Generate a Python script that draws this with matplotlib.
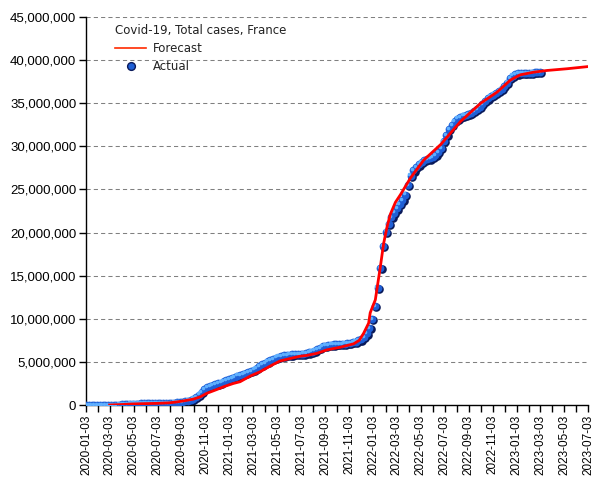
import numpy as np
import pandas as pd
import matplotlib
matplotlib.use("Agg")
import matplotlib.pyplot as plt
import matplotlib.dates as mdates
from matplotlib.transforms import offset_copy
from matplotlib.lines import Line2D
from matplotlib.ticker import FuncFormatter

# ---- Data ----
actual_start = "2020-01-03"   # weekly observations
actual_millions = [
    0, 0, 0, 0, 0, 0, 0, 0, 0, 0,            # k 0-9
    0.005, 0.015, 0.04, 0.07, 0.10, 0.13, 0.15, 0.16, 0.17, 0.17,   # 10-19
    0.18, 0.18, 0.19, 0.19, 0.19, 0.20, 0.20, 0.21, 0.22, 0.23,     # 20-29
    0.24, 0.25, 0.27, 0.29, 0.32, 0.36, 0.42, 0.50, 0.60, 0.75,     # 30-39
    0.95, 1.20, 1.50, 1.85, 2.10, 2.20, 2.30, 2.40, 2.50, 2.60,     # 40-49
    2.75, 2.90, 3.00, 3.10, 3.25, 3.40, 3.50, 3.60, 3.70, 3.80,     # 50-59
    3.90, 4.10, 4.30, 4.50, 4.70, 4.90, 5.05, 5.20, 5.35, 5.50,     # 60-69
    5.60, 5.70, 5.75, 5.80, 5.85, 5.86, 5.88, 5.90, 5.92, 5.95,     # 70-79
    6.00, 6.10, 6.20, 6.30, 6.45, 6.60, 6.80, 6.90, 6.96, 6.99,     # 80-89
    7.02, 7.05, 7.07, 7.10, 7.12, 7.15, 7.20, 7.27, 7.35, 7.50,     # 90-99
    7.60, 7.90, 8.30, 8.90, 10.0, 11.5, 13.6, 15.9, 18.4, 20.1,     # 100-109
    21.0, 21.8, 22.3, 22.8, 23.3, 23.8, 24.4, 25.5, 26.6, 27.2,     # 110-119
    27.6, 27.9, 28.2, 28.4, 28.5, 28.6, 28.75, 28.95, 29.3, 29.8,   # 120-129
    30.6, 31.3, 32.0, 32.5, 32.9, 33.2, 33.4, 33.55, 33.65, 33.75,  # 130-139
    33.85, 34.1, 34.35, 34.6, 34.9, 35.25, 35.55, 35.8, 36.0, 36.2, # 140-149
    36.4, 36.65, 37.0, 37.4, 37.9, 38.2, 38.35, 38.45, 38.5, 38.5,  # 150-159
    38.5, 38.52, 38.55, 38.58, 38.6, 38.65,                         # 160-165
]

forecast_dates = [
    "2020-03-03", "2020-04-01", "2020-05-01", "2020-06-01", "2020-07-01",
    "2020-08-01", "2020-08-20", "2020-09-05", "2020-10-02", "2020-10-20",
    "2020-11-05", "2020-12-01", "2020-12-20", "2021-01-12", "2021-01-29",
    "2021-02-24", "2021-03-21", "2021-04-15", "2021-05-10", "2021-06-06",
    "2021-06-30", "2021-07-18", "2021-08-13", "2021-09-07", "2021-10-11",
    "2021-11-14", "2021-11-28", "2021-12-09", "2021-12-22", "2021-12-26",
    "2022-01-08", "2022-01-21", "2022-01-29", "2022-02-07", "2022-02-15",
    "2022-02-28", "2022-03-13", "2022-04-07", "2022-05-11", "2022-06-23",
    "2022-08-13", "2022-10-03", "2022-11-14", "2022-12-18", "2023-01-12",
    "2023-02-15", "2023-03-21", "2023-05-11", "2023-07-03",
]
forecast_millions = [
    0.0, 0.05, 0.12, 0.16, 0.19,
    0.25, 0.35, 0.46, 0.68, 0.95,
    1.35, 1.80, 2.15, 2.50, 2.70,
    3.36, 3.86, 4.50, 5.10, 5.40,
    5.65, 5.75, 6.00, 6.40, 6.70,
    7.10, 7.50, 8.30, 9.50, 10.7,
    12.2, 16.1, 18.7, 20.7, 22.1,
    23.5, 24.4, 26.3, 28.4, 30.2,
    32.9, 35.0, 36.3, 37.7, 38.3,
    38.6, 38.8, 39.0, 39.25,
]

y_ticks = [0, 5e6, 10e6, 15e6, 20e6, 25e6, 30e6, 35e6, 40e6, 45e6]
title_text = "Covid-19, Total cases, France"
x_min, x_max = "2020-01-03", "2023-07-03"

# ---- Build ----
actual_dates = pd.date_range(actual_start, periods=len(actual_millions), freq="7D")
actual_vals = np.array(actual_millions) * 1e6
fc_dates = pd.to_datetime(forecast_dates)
fc_vals = np.array(forecast_millions) * 1e6

fig = plt.figure(figsize=(6.05, 4.8), dpi=100)
ax = fig.add_axes([86 / 605, 1 - 405 / 480, (588 - 86) / 605, (405 - 17) / 480])

# shaded sphere-like markers: dark shadow, body, highlight
shadow_tr = offset_copy(ax.transData, fig=fig, x=0.8, y=-0.8, units="points")
hi_tr = offset_copy(ax.transData, fig=fig, x=-0.9, y=0.9, units="points")
ax.plot(actual_dates, actual_vals, "o", ms=6.2, mfc="#0a1a5a", mec="none",
        transform=shadow_tr, zorder=2)
ax.plot(actual_dates, actual_vals, "o", ms=5.6, mfc="#1f5fd6", mec="none", zorder=3)
ax.plot(actual_dates, actual_vals, "o", ms=2.6, mfc="#5fb0ff", mec="none",
        transform=hi_tr, zorder=4)

ax.plot(fc_dates, fc_vals, "-", color="#ff0000", lw=2.0, zorder=5)

ax.set_xlim(pd.Timestamp(x_min), pd.Timestamp(x_max))
ax.set_ylim(0, 45e6)
ax.set_yticks(y_ticks)
ax.yaxis.set_major_formatter(FuncFormatter(lambda v, p: f"{int(v):,}"))

ax.xaxis.set_major_locator(mdates.MonthLocator(bymonth=[1, 3, 5, 7, 9, 11], bymonthday=3))
ax.xaxis.set_minor_locator(mdates.MonthLocator(bymonthday=3))
ax.xaxis.set_major_formatter(mdates.DateFormatter("%Y-%m-%d"))

for lab in ax.get_yticklabels():
    lab.set_fontfamily("Liberation Sans")
    lab.set_fontsize(9.5)
ax.tick_params(axis="y", direction="out", length=5, width=1, pad=2, colors="black")
ax.tick_params(axis="x", which="both", direction="out", length=5, width=1, pad=2)
for lab in ax.get_xticklabels():
    lab.set_fontfamily("Liberation Sans")
    lab.set_fontsize(8.5)
    lab.set_rotation(90)

ax.grid(axis="y", color="#808080", linestyle=(0, (4, 3)), linewidth=0.75)
ax.set_axisbelow(True)
for s in ["top", "right"]:
    ax.spines[s].set_visible(False)
for s in ["left", "bottom"]:
    ax.spines[s].set_color("black")
    ax.spines[s].set_linewidth(1)

handles = [
    Line2D([], [], color="#ff2a00", lw=1.2),
    Line2D([], [], marker="o", ls="none", ms=5.6, mfc="#1f5fd6", mec="#0a1a5a"),
]
leg = ax.legend(handles, ["Forecast", "Actual"], title=title_text, loc="upper left",
                frameon=False, fontsize=8.5, title_fontsize=8.5,
                bbox_to_anchor=(0.042, 1.002), handlelength=2.6, handletextpad=0.6,
                labelspacing=0.42, borderaxespad=0.3)
leg._legend_box.align = "left"
leg.get_title().set_color("#222222")
for t in leg.get_texts():
    t.set_color("#222222")

fig.savefig("out.png", dpi=100)
